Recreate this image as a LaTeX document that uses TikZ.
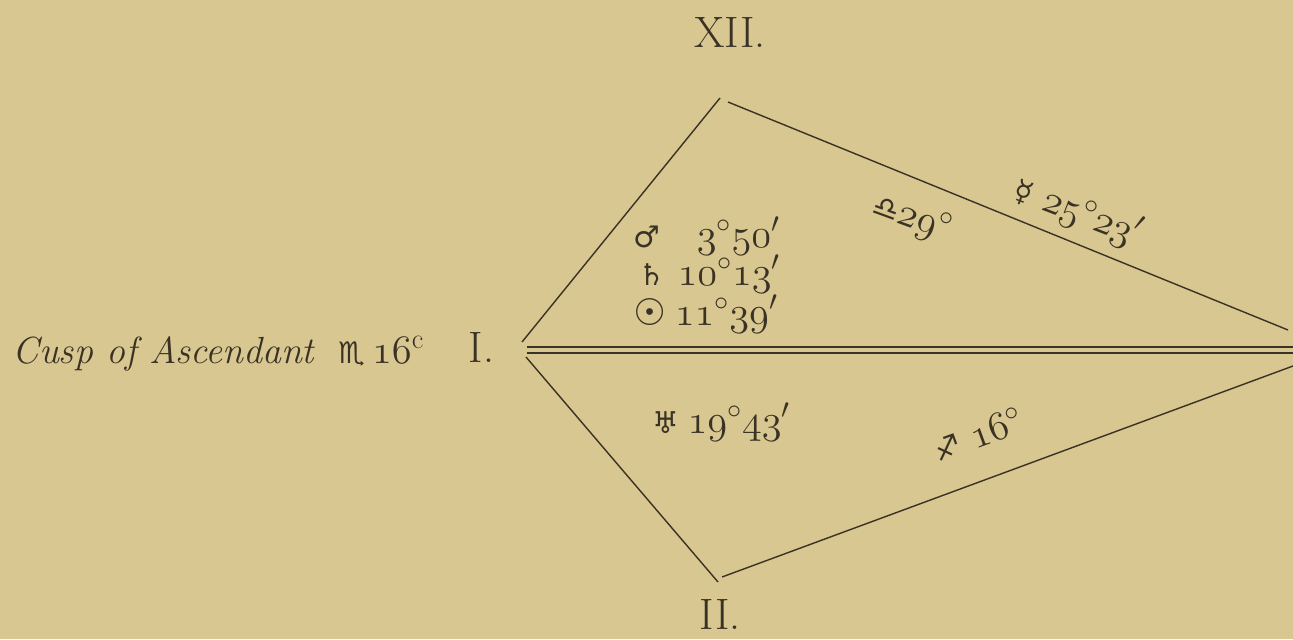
\documentclass[tikz,border=0pt]{standalone}
\usepackage{fix-cm}
\usepackage{fontspec}
\newfontfamily\astro{DejaVu Sans}
\usetikzlibrary{positioning}
\definecolor{paper}{RGB}{216,199,145}
\definecolor{ink}{RGB}{58,50,36}
\newcommand{\osn}[1]{$\mathnormal{#1}$}
\newcommand{\sym}[1]{{\astro\fontsize{17}{17}\selectfont #1}}

\begin{document}
\begin{tikzpicture}[
		x=0.02cm, y=-0.02cm,
		color=ink,
		line width=0.8pt,
		house/.style={font=\fontsize{25}{25}\selectfont, inner sep=0pt},
		planet/.style={font=\fontsize{23}{23}\selectfont, inner sep=0pt},
		cuspline/.style={draw=ink, line width=0.8pt},
		meridian/.style={cuspline, double=paper, double distance=2.6pt}
	]

	\fill[paper] (0,0) rectangle (1293,639);
	\useasboundingbox (0,0) rectangle (1293,639);

	\coordinate (ascA) at (522,342);
	\coordinate (ascB) at (526,357);
	\coordinate (xii) at (720,98);
	\coordinate (xiiB) at (728,102);
	\coordinate (dsc) at (1288,330);
	\coordinate (dscB) at (1293,366);
	\coordinate (ii) at (718,582);
	\coordinate (iiB) at (722,577);
	\coordinate (horA) at (527,350);
	\coordinate (horB) at (1293,350);

	\draw[cuspline] (ascA) -- (xii);
	\draw[cuspline] (xiiB) -- (dsc);
	\draw[cuspline] (ascB) -- (ii);
	\draw[cuspline] (iiB) -- (dscB);
	\draw[meridian] (horA) -- (horB);

	\node[house, anchor=base] (lxii) at (730,47) {XII.};
	\node[house, anchor=base] (lii) at (720,629) {II.};
	\node[house, anchor=base west, font=\fontsize{21.5}{21.5}\selectfont\itshape] (lasc) at (12,363) {Cusp of Ascendant};
	\node[planet, anchor=base west] (scorp) at (338,363) {\sym{♏}\,\osn{16^{\mathrm{c}}}};
	\node[house, anchor=base west] (li) at (468,362) {I.};

	\node[planet, anchor=base west] (mars) at (633,247) {\sym{♂}\hspace{0.9em}\osn{3^\circ 50'}};
	\node[planet, anchor=base west] (saturn) at (638,285) {\sym{♄}\hspace{0.3em}\osn{10^\circ 13'}};
	\node[planet, anchor=base west] (sun) at (633,325) {{\astro\fontsize{21}{21}\selectfont ☉}\hspace{0.2em}\osn{11^\circ 39'}};
	\node[planet, anchor=base west] (uranus) at (652,433) {\sym{♅}\hspace{0.2em}\osn{19^\circ 43'}};

	\node[planet, rotate=-20] (libra) at (912,218) {\sym{♎}\osn{29^\circ}};
	\node[planet, rotate=-21] (mercury) at (1078,212) {\sym{☿}\hspace{0.3em}\osn{25^\circ 23'}};
	\node[planet, rotate=20] (sagit) at (978,434) {\sym{♐}\hspace{0.3em}\osn{16^\circ}};
\end{tikzpicture}
\end{document}
